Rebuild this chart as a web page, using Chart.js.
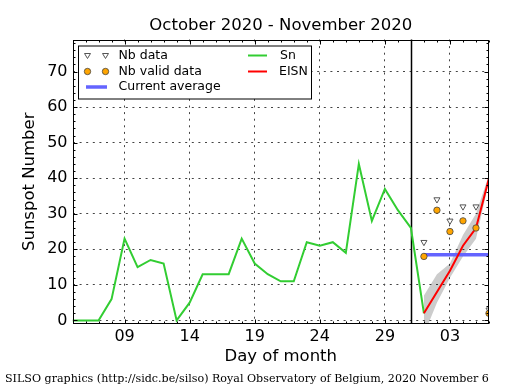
<!DOCTYPE html>
<html>
<head>
<meta charset="utf-8">
<title>Sunspot Number</title>
<script src="https://cdn.jsdelivr.net/npm/chart.js"></script>
<style>
  body { margin: 0; background: #fff; }
  canvas { display: block; }
</style>
</head>
<body>
<canvas id="grafico" width="515" height="390"></canvas>
<script>
// DADOS (days counted from Oct 1, so Nov 1 = 32)
const snDays = [5, 6, 7, 8, 9, 10, 11, 12, 13, 14, 15, 16, 17, 18, 19, 20, 21, 22, 23, 24, 25, 26, 27, 28, 29, 30, 31, 32];
const snValues = [0, 0, 0, 6, 23, 15, 17, 16, 0, 5, 13, 13, 13, 23, 16, 13, 11, 11, 22, 21, 22, 19, 44, 28, 37, 31, 26, 2];

const novDays = [32, 33, 34, 35, 36, 37];
const nbData = [22, 34, 28, 32, 32, 3];
const nbValidData = [18, 31, 25, 28, 26, 2];
const eisnValues = [2, 8, 14, 21, 26, 40];
const eisnUpper = [7, 13, 16, 24, 30, 41];
const eisnLower = [-4, 5, 12, 18, 23, 39];

const averageDays = [32, 37];
const averageValues = [18.5, 18.5];
const monthBoundary = 31;

const xTickDays = [9, 14, 19, 24, 29, 34];
const xTickLabels = ["09", "14", "19", "24", "29", "03"];
const yTickValues = [0, 10, 20, 30, 40, 50, 60, 70];

const FONT = "DejaVu Sans";

function pts(xs, ys) {
  return xs.map((x, i) => ({ x: x, y: ys[i] }));
}

// title, footer, frame, inward ticks, legend box
const silsoPlugin = {
  id: "silso",
  beforeDatasetsDraw(chart) {
    const { ctx, chartArea, scales } = chart;
    const x = Math.round(scales.x.getPixelForValue(monthBoundary)) + 0.5;
    ctx.save();
    ctx.strokeStyle = "#000";
    ctx.lineWidth = 1.5;
    ctx.beginPath();
    ctx.moveTo(x, chartArea.top);
    ctx.lineTo(x, chartArea.bottom);
    ctx.stroke();
    ctx.restore();
  },
  afterDraw(chart) {
    const { ctx, chartArea, scales } = chart;
    const a = chartArea;
    ctx.save();

    // frame
    ctx.strokeStyle = "#000";
    ctx.lineWidth = 1;
    const L = Math.round(a.left) + 0.5, R = Math.round(a.right) - 0.5;
    const T = Math.round(a.top) + 0.5, B = Math.round(a.bottom) - 0.5;
    ctx.strokeRect(L, T, R - L, B - T);

    // ticks pointing inward on every side
    ctx.beginPath();
    for (let d = scales.x.min; d <= scales.x.max; d++) {
      const px = Math.round(scales.x.getPixelForValue(d)) + 0.5;
      const len = xTickDays.includes(d) ? 4 : 2;
      ctx.moveTo(px, B); ctx.lineTo(px, B - len);
      ctx.moveTo(px, T); ctx.lineTo(px, T + len);
    }
    for (let v = 0; v <= scales.y.max; v += 2) {
      const py = Math.round(scales.y.getPixelForValue(v)) + 0.5;
      const len = yTickValues.includes(v) ? 4 : 2;
      ctx.moveTo(L, py); ctx.lineTo(L + len, py);
      ctx.moveTo(R, py); ctx.lineTo(R - len, py);
    }
    ctx.stroke();

    // title
    ctx.fillStyle = "#000";
    ctx.textAlign = "center";
    ctx.textBaseline = "middle";
    ctx.font = "16.5px '" + FONT + "'";
    ctx.fillText("October 2020 - November 2020", (a.left + a.right) / 2, 26);

    // footer
    ctx.textAlign = "left";
    ctx.font = "11.1px 'DejaVu Serif'";
    ctx.fillText("SILSO graphics (http://sidc.be/silso) Royal Observatory of Belgium, 2020 November 6", 5, 379);

    // legend
    const ds = chart.data.datasets;
    const bx = a.left + 5.5, by = a.top + 6;
    ctx.fillStyle = "#fff";
    ctx.fillRect(bx, by, 233, 53);
    ctx.lineWidth = 1;
    ctx.strokeStyle = "#000";
    ctx.strokeRect(bx + 0.5, by + 0.5, 233, 53);

    const rows = [by + 10, by + 26, by + 41.5];
    const mk = [bx + 9.5, bx + 27.5];
    const nbStyle = ds[5], validStyle = ds[6];
    mk.forEach(mx => {
      // triangle
      ctx.beginPath();
      ctx.moveTo(mx - 3, rows[0] - 2);
      ctx.lineTo(mx + 3, rows[0] - 2);
      ctx.lineTo(mx, rows[0] + 3);
      ctx.closePath();
      ctx.fillStyle = nbStyle.pointBackgroundColor;
      ctx.fill();
      ctx.strokeStyle = nbStyle.pointBorderColor;
      ctx.lineWidth = 1;
      ctx.stroke();
      // circle
      ctx.beginPath();
      ctx.arc(mx, rows[1], validStyle.pointRadius, 0, Math.PI * 2);
      ctx.fillStyle = validStyle.pointBackgroundColor;
      ctx.fill();
      ctx.strokeStyle = validStyle.pointBorderColor;
      ctx.lineWidth = validStyle.pointBorderWidth;
      ctx.stroke();
    });
    function seg(x1, x2, y, d) {
      ctx.beginPath();
      ctx.moveTo(x1, y);
      ctx.lineTo(x2, y);
      ctx.strokeStyle = d.borderColor;
      ctx.lineWidth = d.borderWidth;
      ctx.stroke();
    }
    seg(bx + 8, bx + 29, rows[2], ds[2]);
    seg(bx + 170, bx + 189, rows[0], ds[3]);
    seg(bx + 170, bx + 189, rows[1], ds[4]);

    ctx.fillStyle = "#000";
    ctx.font = "12.5px '" + FONT + "'";
    ctx.textAlign = "left";
    ctx.fillText(ds[5].label, bx + 40.5, rows[0]);
    ctx.fillText(ds[6].label, bx + 40.5, rows[1]);
    ctx.fillText(ds[2].label, bx + 40.5, rows[2]);
    ctx.fillText(ds[3].label, bx + 202, rows[0]);
    ctx.fillText(ds[4].label, bx + 201, rows[1]);

    ctx.restore();
  }
};

const ctx = document.getElementById("grafico");

new Chart(ctx, {
  type: "line",
  data: {
    datasets: [
      {
        label: "EISN low",
        data: pts(novDays, eisnLower),
        borderColor: "transparent",
        borderWidth: 0,
        pointRadius: 0,
        fill: false,
        order: 10,
        clip: 0
      },
      {
        label: "EISN high",
        data: pts(novDays, eisnUpper),
        borderColor: "transparent",
        borderWidth: 0,
        pointRadius: 0,
        fill: "-1",
        backgroundColor: "rgba(0,0,0,0.2)",
        order: 10,
        clip: 0
      },
      {
        label: "Current average",
        data: pts(averageDays, averageValues),
        borderColor: "#6464ff",
        borderWidth: 3.5,
        pointRadius: 0,
        order: 8,
        clip: 0
      },
      {
        label: "Sn",
        data: pts(snDays, snValues),
        borderColor: "#32cd32",
        borderWidth: 2,
        pointRadius: 0,
        tension: 0,
        order: 6,
        clip: 0
      },
      {
        label: "EISN",
        data: pts(novDays, eisnValues),
        borderColor: "#ff0000",
        borderWidth: 2,
        pointRadius: 0,
        tension: 0,
        order: 5,
        clip: 0
      },
      {
        label: "Nb data",
        data: pts(novDays, nbData),
        showLine: false,
        pointStyle: "triangle",
        rotation: 180,
        pointRadius: 3.5,
        pointBackgroundColor: "#ffffff",
        pointBorderColor: "#555555",
        pointBorderWidth: 1,
        order: 3,
        clip: 0
      },
      {
        label: "Nb valid data",
        data: pts(novDays, nbValidData),
        showLine: false,
        pointStyle: "circle",
        pointRadius: 3.2,
        pointBackgroundColor: "#ffa500",
        pointBorderColor: "#444444",
        pointBorderWidth: 0.8,
        order: 2,
        clip: 0
      }
    ]
  },
  options: {
    responsive: false,
    animation: false,
    events: [],
    layout: {
      padding: { top: 39.5, right: 26, left: 0, bottom: 0 }
    },
    plugins: {
      legend: { display: false },
      tooltip: { enabled: false }
    },
    scales: {
      x: {
        type: "linear",
        min: 5,
        max: 37,
        afterBuildTicks: function (axis) {
          axis.ticks = xTickDays.map(v => ({ value: v }));
        },
        afterFit: function (axis) {
          axis.height = 66;
        },
        ticks: {
          callback: function (v) {
            return xTickLabels[xTickDays.indexOf(v)];
          },
          color: "#000",
          font: { family: FONT, size: 16 },
          padding: 3,
          maxRotation: 0,
          autoSkip: false
        },
        grid: { color: "#444", lineWidth: 1, drawTicks: false },
        border: { display: false, dash: [2, 4.6] },
        title: {
          display: true,
          text: "Day of month",
          color: "#000",
          font: { family: FONT, size: 16.5 },
          padding: { top: 0, bottom: 23 }
        }
      },
      y: {
        min: -1,
        max: 79,
        afterBuildTicks: function (axis) {
          axis.ticks = yTickValues.map(v => ({ value: v }));
        },
        afterFit: function (axis) {
          axis.width = 72.5;
        },
        ticks: {
          color: "#000",
          font: { family: FONT, size: 16 },
          padding: 5
        },
        grid: { color: "#444", lineWidth: 1, drawTicks: false },
        border: { display: false, dash: [2, 4.6] },
        title: {
          display: true,
          text: "Sunspot Number",
          color: "#000",
          font: { family: FONT, size: 16.5 },
          padding: { top: 20, bottom: 0 }
        }
      }
    }
  },
  plugins: [silsoPlugin]
});
</script>
</body>
</html>
